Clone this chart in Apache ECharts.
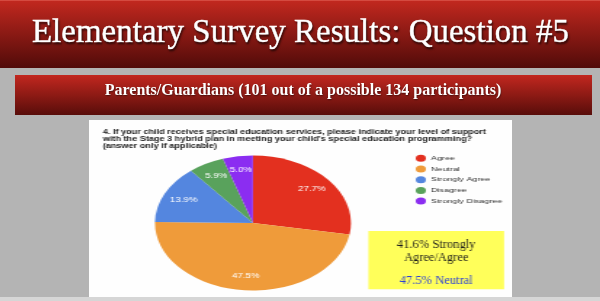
<!DOCTYPE html>
<html>
<head>
<meta charset="utf-8">
<script src="https://cdn.jsdelivr.net/npm/echarts@6/dist/echarts.min.js"></script>
<style>
  html, body { margin: 0; padding: 0; background: #b4b4b4; }
  #slide { position: absolute; left: 0; top: 0; width: 600px; height: 301px; }
  #panel { position: absolute; left: 89px; top: 120px; width: 291px; height: 177px;
           transform: scaleX(1.452); transform-origin: 0 0; }
</style>
</head>
<body>
<div id="slide"></div>
<div id="panel"></div>
<script>
// ---- data ----
const categories = ['Agree', 'Neutral', 'Strongly Agree', 'Disagree', 'Strongly Disagree'];
const counts = [28, 48, 14, 6, 5];
const sliceColors = ['#e3301f', '#ef9b3a', '#5486df', '#59a25c', '#8b2df1'];
const titleText = 'Elementary Survey Results: Question #5';
const subtitleText = 'Parents/Guardians (101 out of a possible 134 participants)';
const questionLines = [
  '4. If your child receives special education services, please indicate your level of support',
  "with the Stage 3 hybrid plan in meeting your child's special education programming?",
  '(answer only if applicable)'
];
const summaryLines = ['41.6% Strongly', 'Agree/Agree', '47.5% Neutral'];

// ---- slide (unstretched) ----
const slide = echarts.init(document.getElementById('slide'), null, { width: 600, height: 301, renderer: 'canvas' });
const redGrad = (top, bottom) => new echarts.graphic.LinearGradient(0, 0, 0, 1, [
  { offset: 0, color: top }, { offset: 1, color: bottom }
]);
slide.setOption({
  animation: false,
  backgroundColor: '#b4b4b4',
  graphic: [
    { type: 'rect', shape: { x: 0, y: 0, width: 600, height: 68 }, style: { fill: redGrad('#c3281f', '#510b09') } },
    { type: 'rect', shape: { x: 0, y: 0, width: 600, height: 1 }, style: { fill: '#d44a40' } },
    { type: 'rect', shape: { x: 15, y: 75, width: 577, height: 40 }, style: { fill: redGrad('#c2271f', '#580d0a') } },
    { type: 'rect', shape: { x: 0, y: 297, width: 600, height: 4 }, style: { fill: '#d6d6d6' } },
    { type: 'text', x: 300.5, y: 33.5, style: {
        text: titleText, fill: '#ffffff', font: '33px "Liberation Serif", serif',
        align: 'center', verticalAlign: 'middle',
        stroke: '#ffffff', lineWidth: 0.5,
        textShadowColor: 'rgba(0,0,0,0.55)', textShadowBlur: 2, textShadowOffsetX: 1, textShadowOffsetY: 1.5 } },
    { type: 'text', x: 303, y: 91, style: {
        text: subtitleText, fill: '#ffffff', font: 'bold 16px "Liberation Serif", serif',
        align: 'center', verticalAlign: 'middle',
        textShadowColor: 'rgba(0,0,0,0.5)', textShadowBlur: 1.5, textShadowOffsetX: 0.5, textShadowOffsetY: 1 } }
  ]
});

// ---- chart panel (stretched horizontally like the pasted image) ----
const SX = 1.452;
const panel = echarts.init(document.getElementById('panel'), null, { width: 291, height: 177, renderer: 'canvas' });
const pieData = categories.map((c, i) => ({ name: c, value: counts[i], itemStyle: { color: sliceColors[i] } }));
const labelData = categories.map((c, i) => ({ name: c, value: counts[i] }));
panel.setOption({
  animation: false,
  backgroundColor: '#fefefe',
  title: {
    text: questionLines.join('\n'),
    left: 9.4, top: 9, padding: 0,
    textStyle: { fontFamily: 'Arial, "Liberation Sans", sans-serif', fontSize: 6.3, fontWeight: 'bold', lineHeight: 7, color: '#222222' }
  },
  legend: {
    orient: 'vertical', left: 225, top: 34.8, padding: 0,
    itemWidth: 7, itemHeight: 7, itemGap: 3.7, icon: 'circle',
    data: categories.map((c, i) => ({ name: c, itemStyle: { color: sliceColors[i] } })),
    textStyle: { fontFamily: 'Arial, "Liberation Sans", sans-serif', fontSize: 6.2, lineHeight: 7, color: '#333333', padding: [0, 0, 0, -1.5] }
  },
  series: [
    {
      type: 'pie', center: [112.9, 103], radius: [0, 67.5], startAngle: 90, clockwise: true,
      percentPrecision: 1, avoidLabelOverlap: false, silent: true,
      label: { show: false }, labelLine: { show: false },
      data: pieData
    },
    {
      type: 'pie', center: [112.9, 103], radius: [0, 100], startAngle: 90, clockwise: true,
      percentPrecision: 1, avoidLabelOverlap: false, silent: true, legendHoverLink: false,
      itemStyle: { color: 'rgba(0,0,0,0)' },
      label: { show: true, position: 'inside', formatter: p => p.percent.toFixed(1) + '%', color: '#ffffff',
               fontFamily: 'Arial, "Liberation Sans", sans-serif', fontSize: 6.7 },
      labelLine: { show: false },
      data: labelData
    }
  ],
  graphic: [
    { type: 'group', x: 192.4, y: 111, scaleX: 1 / SX, children: [
      { type: 'rect', shape: { x: 0, y: 0, width: 135.7, height: 58.3 }, style: { fill: '#ffff5a' } },
      { type: 'text', x: 67.85, y: 13.3, style: { text: summaryLines[0], fill: '#1a1a1a', font: '12.5px "Liberation Serif", serif', align: 'center', verticalAlign: 'middle' } },
      { type: 'text', x: 67.85, y: 27, style: { text: summaryLines[1], fill: '#1a1a1a', font: '12.5px "Liberation Serif", serif', align: 'center', verticalAlign: 'middle' } },
      { type: 'text', x: 67.85, y: 49.8, style: { text: summaryLines[2], fill: '#2b3fd6', font: '12.5px "Liberation Serif", serif', align: 'center', verticalAlign: 'middle' } }
    ] }
  ]
});
</script>
</body>
</html>
